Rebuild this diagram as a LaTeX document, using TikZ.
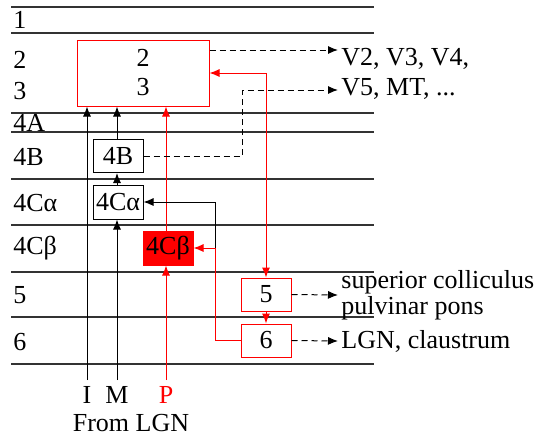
\documentclass[tikz,border=0pt]{standalone}
\usepackage{fontspec}
\setmainfont{Liberation Serif}
\usetikzlibrary{arrows.meta}
\begin{document}
\begin{tikzpicture}[x=0.5pt, y=-0.5pt,
    font=\fontsize{13}{15}\selectfont,
    >={Latex[length=5pt,width=4pt]},
    layer/.style={black!80, line width=0.55pt},
    lab/.style={anchor=west, inner sep=0pt},
    area/.style={draw, line width=0.5pt, inner sep=0pt, minimum width=25pt, minimum height=16.5pt},
    link/.style={line width=0.5pt},
    proj/.style={line width=0.5pt, dash pattern=on 3pt off 2pt}]
    \useasboundingbox (0,0) rectangle (536,436);

    % Layer boundaries
    \foreach \y in {7,33,113,132,179,225,272,317,364}
        \draw[layer] (11,\y) -- (374,\y);

    % Layer names
    \node[lab] (n1) at (13,20) {1};
    \node[lab] (n2) at (13,60) {2};
    \node[lab] (n3) at (13,91) {3};
    \node[lab] (n4a) at (13,123) {4A};
    \node[lab] (n4b) at (13,157) {4B};
    \node[lab] (n4ca) at (13,203) {4Cα};
    \node[lab] (n4cb) at (13,248) {4Cβ};
    \node[lab] (n5) at (13,295) {5};
    \node[lab] (n6) at (13,342) {6};

    % Areas
    \node[area, red, text=black, minimum width=66pt, minimum height=33pt, align=center] (box23) at (143,73) {2\\[-0.5pt]3};
    \node[area] (l4b) at (118,156) {4B};
    \node[area, minimum height=17pt] (l4ca) at (118,202) {4Cα};
    \node[area, draw=red, fill=red, minimum height=17pt] (l4cb) at (168,248) {4Cβ};
    \node[area, red, text=black] (l5) at (266,294.5) {5};
    \node[area, red, text=black] (l6) at (266,340.5) {6};

    % Inputs from LGN
    \node[inner sep=0pt, anchor=north] (labI) at (87,386) {I};
    \node[inner sep=0pt, anchor=north] (labM) at (117,386) {M};
    \node[inner sep=0pt, anchor=north, text=red] (labP) at (166,386) {P};
    \node[inner sep=0pt] (lgn) at (131,423) {From LGN};

    \draw[link, ->] ([yshift=3pt]labI.north) -- (labI |- box23.south);
    \draw[link, ->] ([yshift=3pt]labM.north) -- (labM |- l4ca.south);
    \draw[link, ->] (labM |- l4ca.north) -- (labM |- l4b.south);
    \draw[link, ->] (labM |- l4b.north) -- (labM |- box23.south);
    \draw[link, red, ->] ([yshift=3pt]labP.north) -- (labP |- l4cb.south);
    \draw[link, red, ->] (labP |- l4cb.north) -- (labP |- box23.south);

    % Outputs
    \coordinate (v2tip) at (338,50);
    \coordinate (v5tip) at (338,90);
    \coordinate (bend) at (242,90);
    \coordinate (sctip) at (338,295);
    \coordinate (lgntip) at (338,341);
    \coordinate (junc) at (215,248);
    \node[lab] (v2) at (341,59) {V2, V3, V4,};
    \node[lab] (v5) at (341,89) {V5, MT, ...};
    \node[lab, align=left] (sc) at (341,295) {superior colliculus\\[-2pt]pulvinar pons};
    \node[lab] (lgnout) at (341,341) {LGN, claustrum};

    \draw[proj, ->] (box23.east |- v2tip) -- (v2tip);
    \draw[proj, ->] (l4b.east) -| (bend) -- (v5tip);
    \draw[proj, ->] (l5.east) -- (sctip);
    \draw[proj, ->] (l6.east) -- (lgntip);

    % Feedback
    \draw[link, red, <->] (box23.east) -| (l5.north);
    \draw[link, red, ->] (l5.south) -- (l6.north);
    \draw[link, ->] (junc) |- (l4ca.east);
    \draw[link, red, ->] (l6.west) -| (junc) -- (l4cb.east);
\end{tikzpicture}
\end{document}
